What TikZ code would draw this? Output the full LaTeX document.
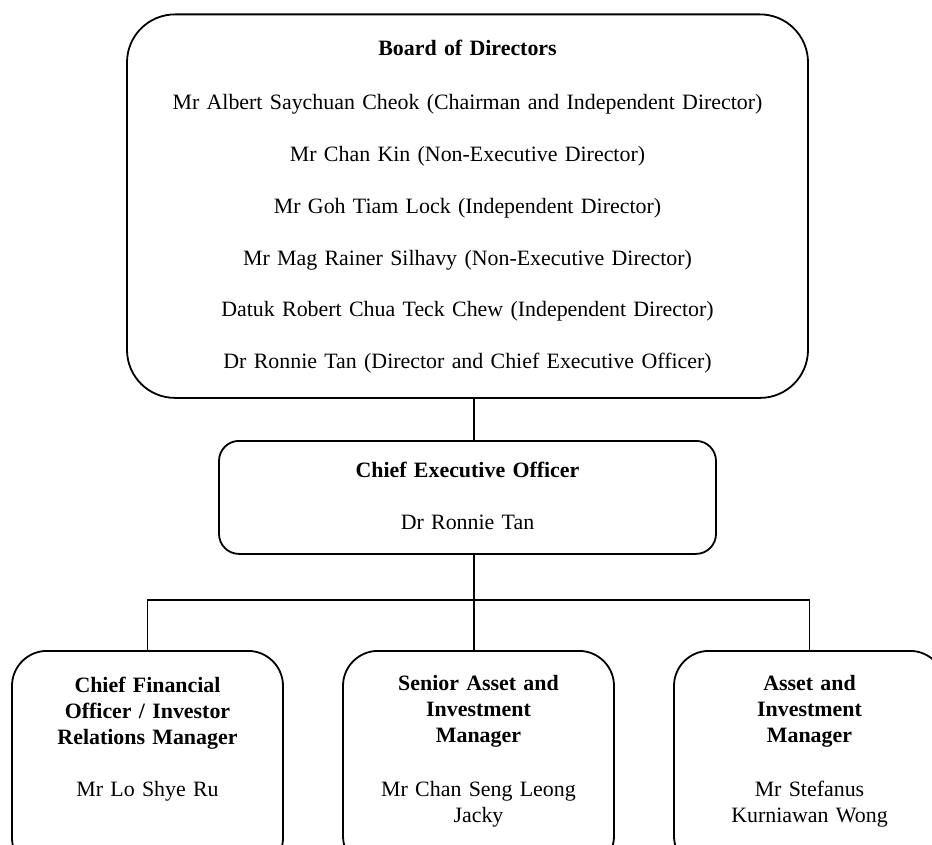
\documentclass[tikz,border=0pt]{standalone}
\usepackage{fontspec}
\setmainfont{Liberation Serif}

\begin{document}
\begin{tikzpicture}[x=0.5pt,y=-0.5pt,
    font=\fontsize{10.95}{12.9}\selectfont,
    orgbox/.style={draw,line width=0.9pt,anchor=north,align=center,inner xsep=0pt,inner ysep=0pt},
    unitbox/.style={orgbox,rounded corners=17.5pt,text width=135.5pt,text height=20pt,text depth=90pt},
    link/.style={line width=0.8pt}]
    \useasboundingbox (0,0) rectangle (932,845);
    \clip (0,0) rectangle (932,845);
    \node[orgbox,rounded corners=24pt,text width=340.5pt,text height=20.75pt,text depth=171pt] (board) at (467.5,13.5)
        {\textbf{Board of Directors}\\[14pt]
         Mr Albert Saychuan Cheok (Chairman and Independent Director)\\[13pt]
         Mr Chan Kin (Non-Executive Director)\\[13pt]
         Mr Goh Tiam Lock (Independent Director)\\[13pt]
         Mr Mag Rainer Silhavy (Non-Executive Director)\\[13pt]
         Datuk Robert Chua Teck Chew (Independent Director)\\[13pt]
         Dr Ronnie Tan (Director and Chief Executive Officer)};
    \node[orgbox,rounded corners=10pt,text width=248.5pt,text height=18.5pt,text depth=38pt] (ceo) at (467.5,440)
        {\textbf{Chief Executive Officer}\\[13pt]
         Dr Ronnie Tan};
    % bottom row, cut off by the page edge
    \node[unitbox,text height=21pt] (cfo) at (147.5,650)
        {\textbf{Chief Financial}\\\textbf{Officer / Investor}\\\textbf{Relations Manager}\\[13pt]
         Mr Lo Shye Ru};
    \node[unitbox] (saim) at (478.5,650)
        {\textbf{Senior Asset and}\\\textbf{Investment}\\\textbf{Manager}\\[14pt]
         Mr Chan Seng Leong\\Jacky};
    \node[unitbox] (aim) at (809.5,650)
        {\textbf{Asset and}\\\textbf{Investment}\\\textbf{Manager}\\[14pt]
         Mr Stefanus\\Kurniawan Wong};
    \coordinate (bus) at (474,600);
    \draw[link] (board.south -| bus) -- (ceo.north -| bus);
    \draw[link] (ceo.south -| bus) -- (saim.north -| bus);
    \draw[link] (cfo.north) |- (aim.north |- bus) -- (aim.north);
\end{tikzpicture}
\end{document}
